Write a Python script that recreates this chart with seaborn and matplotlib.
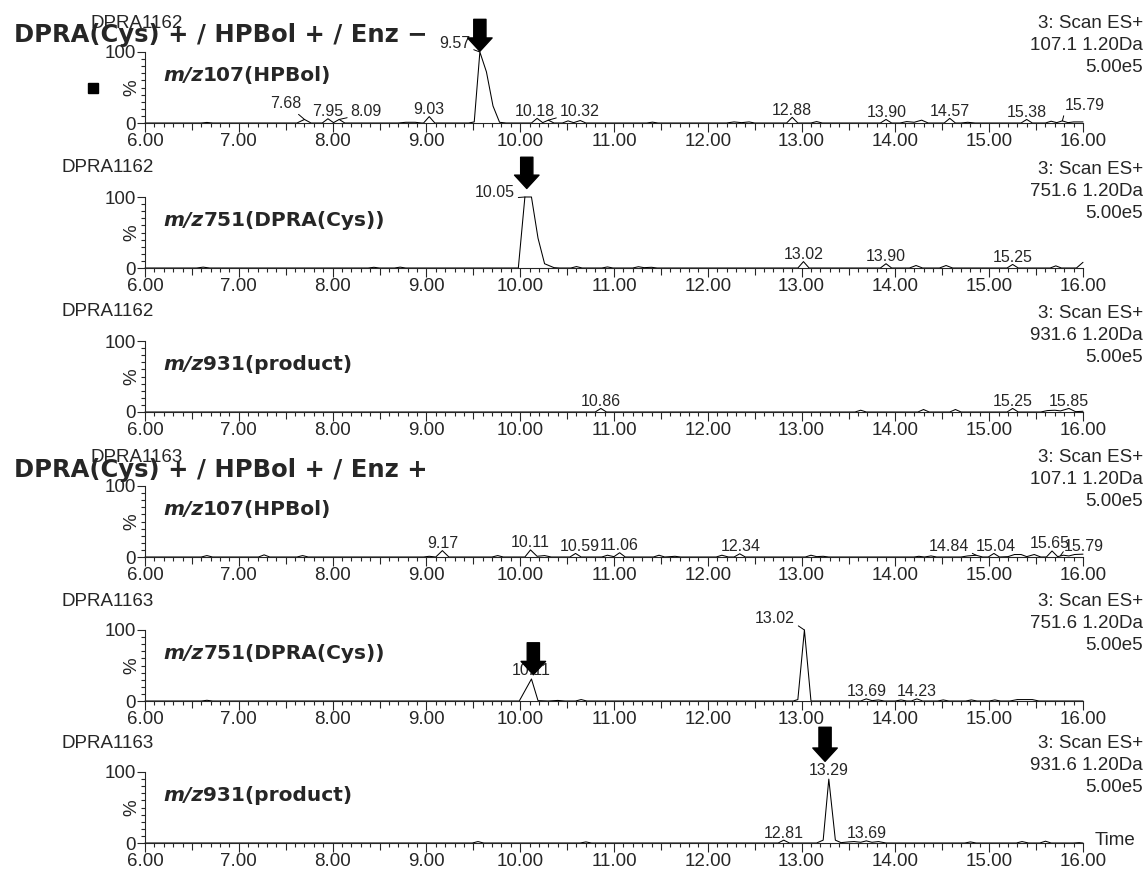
import numpy as np
import pandas as pd
import matplotlib
matplotlib.use("Agg")
import matplotlib.pyplot as plt
import seaborn as sns
from matplotlib.ticker import FixedLocator, FuncFormatter, MultipleLocator

# ---------------- data (time [min], relative intensity [%]) ----------------
trace_1 = [(6.00, 0), (6.60, 0), (6.66, 0.8), (6.72, 0), (7.62, 0), (7.70, 5), (7.77, 0),
           (7.89, 0), (7.95, 6), (8.01, 0.5), (8.07, 5), (8.13, 0), (8.70, 0), (8.78, 1),
           (8.88, 1), (8.95, 0), (8.97, 0), (9.03, 9), (9.09, 0), (9.45, 0), (9.51, 1.5),
           (9.57, 100), (9.64, 72), (9.71, 24), (9.78, 1), (9.85, 0), (10.12, 0), (10.18, 6.5),
           (10.24, 0.5), (10.30, 4), (10.36, 0), (10.45, 0), (10.51, 3), (10.57, 0.5),
           (10.64, 3.5), (10.70, 0), (11.35, 0), (11.41, 1.2), (11.47, 0), (12.20, 0),
           (12.28, 1.5), (12.36, 0.5), (12.44, 1.5), (12.50, 0), (12.84, 0), (12.90, 8),
           (12.96, 0), (13.10, 0), (13.16, 2), (13.22, 0), (13.84, 0), (13.90, 5), (13.96, 0),
           (14.05, 0), (14.12, 2), (14.20, 1), (14.28, 4), (14.35, 0), (14.52, 0), (14.58, 6.5),
           (14.64, 0), (14.70, 0), (14.77, 1), (14.85, 0), (15.34, 0), (15.40, 5), (15.46, 0),
           (15.60, 0), (15.66, 2.5), (15.72, 0.5), (15.78, 3), (15.84, 0.5), (15.90, 1.5),
           (16.00, 1.5)]
trace_2 = [(6.00, 0), (6.55, 0), (6.62, 1.2), (6.69, 0), (8.38, 0), (8.44, 1), (8.50, 0),
           (8.66, 0), (8.72, 1.2), (8.78, 0), (9.98, 0), (10.05, 100), (10.12, 100),
           (10.19, 42), (10.26, 6), (10.36, 0.5), (10.42, 0), (10.54, 0), (10.60, 2),
           (10.66, 0), (10.87, 0), (10.93, 1.5), (10.99, 0), (11.20, 0), (11.26, 1.8),
           (11.32, 0.5), (11.40, 1), (11.46, 0), (12.96, 0), (13.02, 9), (13.08, 0),
           (13.84, 0), (13.90, 6), (13.96, 0), (14.15, 0), (14.22, 3.5), (14.29, 0),
           (14.47, 0), (14.54, 3.5), (14.61, 0), (15.19, 0), (15.25, 5), (15.31, 0),
           (15.65, 0), (15.71, 3), (15.77, 0), (15.93, 0), (16.00, 8)]
trace_3 = [(6.00, 0), (10.80, 0), (10.86, 5), (10.92, 0), (13.57, 0), (13.63, 2.5), (13.69, 0),
           (14.24, 0), (14.30, 3.5), (14.36, 0), (14.58, 0), (14.64, 3.5), (14.70, 0),
           (15.19, 0), (15.25, 5), (15.31, 0), (15.55, 0), (15.62, 2), (15.70, 2.5),
           (15.76, 1.5), (15.85, 5), (15.92, 0.5), (16.00, 1)]
trace_4 = [(6.00, 0), (6.60, 0), (6.66, 2), (6.72, 0), (7.21, 0), (7.27, 3), (7.33, 0),
           (7.62, 0), (7.68, 2), (7.74, 0), (8.97, 0), (9.03, 1), (9.10, 0), (9.17, 9),
           (9.24, 0), (9.70, 0), (9.76, 2), (9.82, 0), (10.05, 0), (10.11, 10), (10.18, 1),
           (10.26, 2), (10.33, 0), (10.53, 0), (10.59, 5), (10.65, 0), (10.87, 0), (10.93, 2.5),
           (11.00, 0.5), (11.06, 6), (11.12, 0), (11.42, 0), (11.48, 2.5), (11.54, 0),
           (11.60, 0.5), (11.65, 1), (11.71, 0), (12.09, 0), (12.15, 2.5), (12.22, 0),
           (12.28, 0), (12.34, 4.5), (12.40, 0), (13.04, 0), (13.10, 2.5), (13.16, 0.5),
           (13.23, 1), (13.29, 0), (14.20, 0), (14.25, 1), (14.31, 0), (14.38, 1.5), (14.44, 0),
           (14.70, 0), (14.77, 1.5), (14.86, 2.5), (14.93, 0), (14.99, 0), (15.05, 5),
           (15.11, 0), (15.20, 0.5), (15.27, 3.5), (15.34, 3.5), (15.40, 0.5), (15.48, 3.5),
           (15.55, 0), (15.61, 0), (15.67, 8.5), (15.73, 0.5), (15.79, 2.5), (15.85, 1.5),
           (15.91, 3.5), (16.00, 4)]
trace_5 = [(6.00, 0), (6.60, 0), (6.66, 1), (6.72, 0), (9.99, 0), (10.12, 31), (10.19, 0.5),
           (10.30, 0), (10.40, 0.8), (10.48, 0), (10.59, 0), (10.65, 2), (10.71, 0),
           (12.91, 0), (12.96, 2), (13.03, 100), (13.10, 0), (13.63, 0), (13.69, 3),
           (13.75, 0.5), (13.82, 1.5), (13.88, 0), (14.00, 0), (14.06, 1.5), (14.12, 0),
           (14.17, 0), (14.23, 3), (14.29, 0), (14.45, 0), (14.51, 1.5), (14.57, 0),
           (14.75, 0), (14.81, 1.5), (14.87, 0), (15.00, 0), (15.06, 1.5), (15.12, 0),
           (15.22, 0), (15.30, 2), (15.38, 2), (15.46, 2), (15.53, 0), (16.00, 0)]
trace_6 = [(6.00, 0), (9.49, 0), (9.55, 2), (9.61, 0), (10.64, 0), (10.70, 1.5), (10.76, 0),
           (12.75, 0), (12.81, 4), (12.87, 0), (13.16, 0), (13.23, 4), (13.29, 90),
           (13.36, 4), (13.42, 0.5), (13.50, 1.5), (13.56, 2), (13.63, 1), (13.69, 3),
           (13.75, 1), (13.82, 2), (13.90, 0), (14.74, 0), (14.80, 1.5), (14.86, 0),
           (15.29, 0), (15.35, 2), (15.42, 0), (15.54, 0), (15.60, 2.5), (15.66, 0),
           (15.90, 0), (15.96, 0.5), (16.00, 0)]

# peak labels: (text, text x, text baseline y, ha, leader target x, leader target y)
labels_1 = [("7.68", 7.67, 21, "right", 7.70, 5), ("7.95", 7.95, 9.5, "center", None, None),
            ("8.09", 8.19, 9.5, "left", 8.07, 5), ("9.03", 9.03, 12.5, "center", None, None),
            ("9.57", 9.47, 106, "right", 9.57, 100), ("10.18", 10.16, 9.5, "center", None, None),
            ("10.32", 10.42, 9.5, "left", 10.30, 4), ("12.88", 12.90, 11, "center", None, None),
            ("13.90", 13.91, 8.5, "center", None, None), ("14.57", 14.58, 10, "center", None, None),
            ("15.38", 15.40, 8.5, "center", None, None), ("15.79", 15.81, 19, "left", 15.78, 3)]
labels_2 = [("10.05", 9.945, 100, "right", 10.05, 100), ("13.02", 13.02, 12.5, "center", None, None),
            ("13.90", 13.90, 9.5, "center", None, None), ("15.25", 15.25, 8.5, "center", None, None)]
labels_3 = [("10.86", 10.86, 8.5, "center", None, None), ("15.25", 15.25, 8.5, "center", None, None),
            ("15.85", 15.85, 8.5, "center", None, None)]
labels_4 = [("9.17", 9.17, 12.5, "center", None, None), ("10.11", 10.11, 13.5, "center", None, None),
            ("10.59", 10.63, 8.5, "center", None, None), ("11.06", 11.06, 9.5, "center", None, None),
            ("12.34", 12.35, 8, "center", None, None), ("14.84", 14.785, 8.5, "right", 14.86, 2.5),
            ("15.04", 15.07, 8.5, "center", None, None), ("15.65", 15.65, 12, "center", None, None),
            ("15.79", 15.79, 8.5, "left", 15.76, 2)]
labels_5 = [("10.11", 10.12, 37, "center", None, None), ("13.02", 12.93, 110, "right", 13.03, 100),
            ("13.69", 13.69, 6.5, "center", None, None), ("14.23", 14.23, 6.5, "center", None, None)]
labels_6 = [("13.29", 13.29, 96, "center", None, None), ("12.81", 12.81, 7.5, "center", None, None),
            ("13.69", 13.69, 7, "center", None, None)]

# highlighted peaks (arrow x, arrow top, arrow tip) in data units
arrows = {0: (9.57, 146, 101), 1: (10.07, 156, 112), 4: (10.14, 82, 37), 5: (13.25, 163, 115)}

runs = ["DPRA1162"] * 3 + ["DPRA1163"] * 3
channels = ["107.1 1.20Da", "751.6 1.20Da", "931.6 1.20Da"] * 2
mz_names = ["107(HPBol)", "751(DPRA(Cys))", "931(product)"] * 2
titles = {0: "DPRA(Cys) + / HPBol + / Enz \u2212", 3: "DPRA(Cys) + / HPBol + / Enz +"}

traces = [trace_1, trace_2, trace_3, trace_4, trace_5, trace_6]
labels = [labels_1, labels_2, labels_3, labels_4, labels_5, labels_6]

frames = []
for i, tr in enumerate(traces):
    d = pd.DataFrame(tr, columns=["time", "pct"])
    d["panel"] = i
    frames.append(d)
df = pd.concat(frames, ignore_index=True)

# ---------------- style ----------------
sns.set_theme(style="ticks")
plt.rcParams["font.family"] = ["Liberation Sans", "DejaVu Sans"]
plt.rcParams["axes.linewidth"] = 0.8

W, H = 1146, 869
fig = plt.figure(figsize=(W / 100, H / 100), dpi=100)
left_px, right_px = 145, 1083
zero_px = [123, 268, 412, 557, 701, 843]
axh_px = 71
aw = right_px - left_px

FS = 13.5
PFS = 11.5

for i in range(6):
    z = zero_px[i]
    ax = fig.add_axes([left_px / W, 1 - z / H, aw / W, axh_px / H])
    sub = df[df["panel"] == i]
    sns.lineplot(data=sub, x="time", y="pct", ax=ax, color="black", lw=0.75,
                 estimator=None, sort=False)
    for ln in ax.lines:
        ln.set_clip_on(False)
    ax.set_xlim(6, 16)
    ax.set_ylim(0, 100)
    ax.set_xlabel("")
    ax.set_ylabel("")
    sns.despine(ax=ax)
    ax.patch.set_alpha(0)

    # ticks
    ax.xaxis.set_major_locator(FixedLocator(np.arange(6, 16.01, 0.5)))
    ax.xaxis.set_major_formatter(FuncFormatter(
        lambda v, p: f"{v:.2f}" if abs(v - round(v)) < 1e-6 else ""))
    ax.xaxis.set_minor_locator(MultipleLocator(0.1))
    ax.yaxis.set_major_locator(FixedLocator([0, 100]))
    ax.yaxis.set_minor_locator(MultipleLocator(10))
    ax.tick_params(axis="x", which="major", direction="out", length=6.5, width=0.8,
                   pad=1, labelsize=FS)
    ax.tick_params(axis="x", which="minor", direction="out", length=3, width=0.8)
    ax.tick_params(axis="y", which="major", direction="out", length=6, width=0.8,
                   pad=0.5, labelsize=FS)
    ax.tick_params(axis="y", which="minor", direction="out", length=3, width=0.8)
    for tk, loc in zip(ax.xaxis.get_major_ticks(), ax.xaxis.get_majorticklocs()):
        if abs(loc - round(loc)) > 1e-6:
            tk.tick1line.set_markersize(5)

    # % label
    ax.text(-0.0144, 0.5, "%", rotation=90, ha="center", va="center",
            transform=ax.transAxes, fontsize=FS)

    # run name and channel info
    xrun = -0.0586 if i in (0, 3) else -0.0885
    ax.text(xrun, 100 / axh_px, runs[i], transform=ax.transAxes, ha="left",
            va="center", fontsize=FS)
    for line, yy in zip(["3: Scan ES+", channels[i], "5.00e5"], [99, 77, 55]):
        ax.text(1.064, yy / axh_px, line, transform=ax.transAxes, ha="right",
                va="center", fontsize=FS)

    # m/z label
    t1 = ax.text(0.0192, 0.662, "m/z", transform=ax.transAxes, ha="left", va="center",
                 fontsize=14.5, style="italic", weight="bold", family="DejaVu Sans")
    ax.annotate(mz_names[i], xy=(1, 0), xycoords=t1, ha="left", va="bottom",
                fontsize=14.5, weight="bold", family="DejaVu Sans")

    # peak labels
    for (txt, tx, ty, ha, px, py) in labels[i]:
        if px is None:
            ax.text(tx, ty, txt, ha=ha, va="baseline", fontsize=PFS, clip_on=False)
        else:
            rp = (1.0, 0.15) if ha == "right" else (0.0, 0.15)
            if txt == "7.68":
                rp = (0.75, 0.05)
            ax.annotate(txt, xy=(px, py), xytext=(tx, ty), ha=ha, va="baseline",
                        fontsize=PFS, annotation_clip=False,
                        arrowprops=dict(arrowstyle="-", lw=0.7, color="black",
                                        shrinkA=0, shrinkB=0, relpos=rp))

    # arrows
    if i in arrows:
        axx, top, tip = arrows[i]
        ax.annotate("", xy=(axx, tip), xytext=(axx, top), annotation_clip=False,
                    arrowprops=dict(arrowstyle="simple,head_length=0.6,head_width=1.1,tail_width=0.55",
                                    mutation_scale=16, fc="black", ec="black",
                                    shrinkA=0, shrinkB=0))

    if i == 0:
        ax.plot([-0.0554], [0.49], marker="s", ms=7, color="black",
                transform=ax.transAxes, clip_on=False, ls="none")
    if i == 5:
        ax.text(1.0128, 0.03, "Time", transform=ax.transAxes, ha="left", va="center",
                fontsize=FS)

    if i in titles:
        ty_px = 35 if i == 0 else 470
        fig.text(14 / W, 1 - ty_px / H, titles[i], ha="left", va="center",
                 fontsize=17.5, weight="bold", family="DejaVu Sans", zorder=10)

fig.savefig("out.png", dpi=100)
